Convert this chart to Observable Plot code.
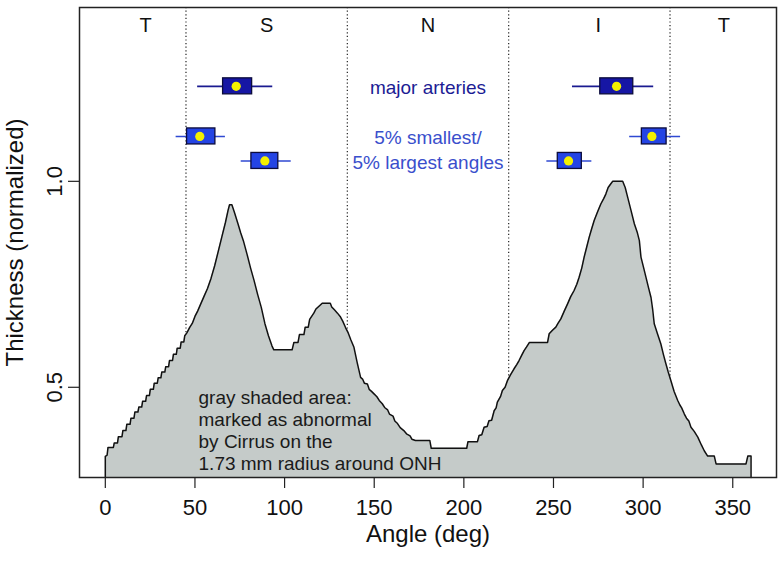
<!DOCTYPE html>
<html><head><meta charset="utf-8">
<script src="https://cdn.jsdelivr.net/npm/d3@7"></script>
<script src="https://cdn.jsdelivr.net/npm/@observablehq/plot@0.6"></script>
<style>body{margin:0;background:#fff;}</style>
</head><body><div id="chart"></div>
<script>
// ---- data: outline vertices of the thickness profile ----
const angles = [0, 1, 1.5, 4.5, 5, 6.8, 7.3, 9.3, 9.8, 11.5, 12, 13.8, 14.3, 16, 16.5, 18.2, 18.7, 20.3, 20.8, 22.5, 23, 24.6, 25.1, 26.8, 27.3, 29, 29.5, 31, 31.5, 33.2, 33.7, 35.3, 35.8, 37.5, 38, 39.6, 40.1, 41.8, 42.3, 43.8, 44.3, 45.5,
  47, 48.5, 50, 51.5, 53, 55, 57, 59, 61, 63, 65, 67, 68.5, 69.3, 70.6, 72, 74, 75.5, 77, 79, 81, 83, 85, 87, 89, 91, 93, 94,
  104.2, 105.2, 107.5, 108.3, 110.8, 111.5, 113.2, 114, 116.3, 117.5, 119.5, 121, 125.5, 126.3, 127.8, 129.5, 131, 132.5, 134, 135.5, 137, 138.7, 140.5, 142.4,
  143.5, 144.5, 146.2, 147.2, 148.5, 149.9, 151.5, 152.8, 154.5, 155.8, 157.5, 158.5, 160.5, 161.5, 163, 164.5, 166.5, 168, 170, 171, 173, 181, 181.8, 201.6, 202.3, 207.6,
  208.5, 210, 211.3, 213, 214, 215.5, 216.9, 218, 218.7, 220.5, 221.5, 223, 224.3, 226, 228, 229.5, 230.8, 232.3, 233.6, 235, 236.6, 246.7, 247.6, 249.3, 251.3, 252.5, 254.1,
  256, 257.8, 259.6, 261.5, 263, 264.3, 265.8, 267.1, 268.5, 269.9, 271.3, 272.7, 274.5, 276.4, 278, 279.2, 280.5, 282, 283, 288.6, 290, 291.4, 293.2, 295.1, 296.8, 297.9,
  298.8, 300.3, 301.6, 303, 304.4, 305.3, 306.2, 308, 309.9, 311.3, 312.7, 314, 315.5, 317.3, 319.3, 320.5, 321.5, 323, 324.2, 325.5, 326.7, 328.5, 330.5, 332.5, 334.1, 336,
  339.7, 340.7, 357.4, 358.4, 360.2];
const thickness = [0.332, 0.335, 0.354, 0.354, 0.365, 0.365, 0.38, 0.38, 0.395, 0.395, 0.41, 0.41, 0.425, 0.425, 0.44, 0.44, 0.452, 0.452, 0.466, 0.466, 0.48, 0.48, 0.495, 0.495, 0.51, 0.51, 0.523, 0.523, 0.537, 0.537, 0.55, 0.55, 0.565, 0.565, 0.58, 0.58, 0.595, 0.595, 0.61, 0.61, 0.625, 0.632,
  0.645, 0.655, 0.672, 0.685, 0.70, 0.72, 0.74, 0.765, 0.795, 0.83, 0.865, 0.90, 0.93, 0.943, 0.943, 0.925, 0.897, 0.875, 0.856, 0.824, 0.79, 0.759, 0.725, 0.694, 0.655, 0.625, 0.600, 0.591,
  0.591, 0.609, 0.609, 0.628, 0.628, 0.646, 0.646, 0.665, 0.68, 0.69, 0.698, 0.704, 0.704, 0.695, 0.688, 0.68, 0.672, 0.66, 0.645, 0.632, 0.615, 0.597, 0.56, 0.524,
  0.52, 0.51, 0.508, 0.495, 0.49, 0.484, 0.477, 0.468, 0.46, 0.451, 0.445, 0.435, 0.43, 0.418, 0.412, 0.402, 0.395, 0.387, 0.382, 0.374, 0.371, 0.371, 0.352, 0.352, 0.368, 0.368,
  0.383, 0.385, 0.403, 0.405, 0.419, 0.42, 0.443, 0.45, 0.464, 0.478, 0.492, 0.50, 0.516, 0.53, 0.545, 0.555, 0.565, 0.578, 0.589, 0.598, 0.609, 0.609, 0.63, 0.638, 0.646, 0.655, 0.666,
  0.685, 0.702, 0.72, 0.735, 0.75, 0.767, 0.79, 0.816, 0.84, 0.864, 0.885, 0.905, 0.925, 0.945, 0.958, 0.969, 0.985, 0.994, 1.0, 1.0, 0.985, 0.961, 0.93, 0.897, 0.875, 0.856,
  0.816, 0.79, 0.767, 0.742, 0.718, 0.69, 0.654, 0.63, 0.605, 0.58, 0.557, 0.537, 0.516, 0.49, 0.468, 0.457, 0.45, 0.435, 0.425, 0.418, 0.403, 0.393, 0.379, 0.36, 0.346, 0.333,
  0.333, 0.314, 0.314, 0.333, 0.333];

const sectorNames = ["T", "S", "N", "I", "T"];
const sectorCenters = [22.5, 90, 180, 275, 345];
const sectorBounds = [45, 135, 225, 315];
const sectorLabelY = 1.377;

const xTicks = [0, 50, 100, 150, 200, 250, 300, 350];
const yTicks = [0.5, 1.0];
const xDomain = [-14.4, 374.4];
const yDomain = [0.281, 1.422];

// box plots: major arteries (S, I), 5% smallest (S, I), 5% largest (S, I)
const boxGroup  = ["major", "major", "small", "small", "large", "large"];
const boxRow    = [1.2306, 1.2306, 1.109, 1.109, 1.0495, 1.0495];
const whiskerLo = [51.5, 260.6, 39.5, 292.5, 75.8, 246.3];
const boxLo     = [65.7, 276.1, 45.6, 299.3, 81.5, 252.4];
const boxMed    = [73.0, 285.2, 52.7, 304.9, 89.0, 258.4];
const boxHi     = [81.9, 294.5, 61.4, 313.1, 96.5, 265.8];
const whiskerHi = [93.4, 305.9, 67.0, 320.9, 103.7, 271.4];

const calloutText = ["major arteries", "5% smallest/\n5% largest angles"];
const calloutX = [180, 180];
const calloutY = [1.2306, 1.0793];

const noteText = ["gray shaded area:\nmarked as abnormal\nby Cirrus on the\n1.73 mm radius around ONH"];
const noteX = [52];
const noteY = [0.3965];

// ---- build ----
const profile = angles.map((a, i) => ({angle: a, thick: thickness[i]}));
const outline = [{angle: angles[0], thick: yDomain[0]}, ...profile, {angle: angles[angles.length - 1], thick: yDomain[0]}];
const boxes = boxRow.map((r, i) => ({row: r, group: boxGroup[i], wlo: whiskerLo[i], blo: boxLo[i], med: boxMed[i], bhi: boxHi[i], whi: whiskerHi[i]}));
const sectors = sectorNames.map((s, i) => ({name: s, x: sectorCenters[i], y: sectorLabelY}));
const callouts = calloutText.map((t, i) => ({t, x: calloutX[i], y: calloutY[i], c: i === 0 ? "#1c1c94" : "#3a4fcc"}));
const notes = noteText.map((t, i) => ({t, x: noteX[i], y: noteY[i]}));

const navy = "#1a1a90", navyFill = "#1616a4";
const blue = "#2f49d2", blueFill = "#2444e4";

const chart = Plot.plot({
  width: 783,
  height: 575,
  marginLeft: 79,
  marginRight: 7,
  marginTop: 7,
  marginBottom: 98,
  style: {fontFamily: "'Liberation Sans', Arial, Helvetica, sans-serif", fontSize: "21px", background: "#fff", color: "#111"},
  x: {domain: xDomain},
  y: {domain: yDomain},
  marks: [
    Plot.ruleX(sectorBounds, {stroke: "#222", strokeWidth: 1.2, strokeDasharray: "1.2,2.4"}),
    Plot.areaY(profile, {x: "angle", y1: yDomain[0], y2: "thick", curve: "linear", fill: "#c5cbc9"}),
    Plot.line(outline, {x: "angle", y: "thick", curve: "linear", stroke: "#111", strokeWidth: 1.5}),
    // whiskers
    Plot.ruleY(boxes, {filter: d => d.group === "major", y: "row", x1: "wlo", x2: "whi", stroke: navy, strokeWidth: 1.6}),
    Plot.ruleY(boxes, {filter: d => d.group !== "major", y: "row", x1: "wlo", x2: "whi", stroke: blue, strokeWidth: 1.6}),
    // boxes
    Plot.rect(boxes, {filter: d => d.group === "major", x1: "blo", x2: "bhi", y1: "row", y2: "row", insetTop: -8, insetBottom: -8, fill: navyFill, stroke: "#0c0c3c", strokeWidth: 1.3}),
    Plot.rect(boxes, {filter: d => d.group !== "major", x1: "blo", x2: "bhi", y1: "row", y2: "row", insetTop: -8, insetBottom: -8, fill: blueFill, stroke: "#0c0c3c", strokeWidth: 1.3}),
    Plot.dot(boxes, {x: "med", y: "row", r: 4.6, fill: "#f4f000", stroke: "none"}),
    // sector labels
    Plot.text(sectors, {x: "x", y: "y", text: "name", fontSize: 20, fill: "#111"}),
    // callouts
    Plot.text(callouts, {x: "x", y: "y", text: "t", fill: d => d.c, fontSize: 19, lineHeight: 1.29}),
    Plot.text(notes, {x: "x", y: "y", text: "t", textAnchor: "start", fontSize: 19, lineHeight: 1.17, fill: "#1a1a1a"}),
    // axes
    Plot.axisX({ticks: xTicks, tickSize: 11, tickPadding: 11, fontSize: 22, label: null, stroke: "#222", strokeWidth: 1.2}),
    Plot.axisY({ticks: yTicks, tickSize: 11, tickPadding: 7, tickRotate: -90, tickFormat: d3.format(".1f"), fontSize: 22, label: null, stroke: "#222", strokeWidth: 1.2}),
    Plot.text(["Angle (deg)"], {text: d => d, frameAnchor: "bottom", textAnchor: "middle", dy: 64, fontSize: 24, fill: "#111"}),
    Plot.text(["Thickness (normalized)"], {text: d => d, frameAnchor: "left", textAnchor: "middle", rotate: -90, dx: -64, fontSize: 24, fill: "#111"}),
    Plot.frame({stroke: "#222", strokeWidth: 1.5})
  ]
});
document.getElementById("chart").appendChild(chart);
</script></body></html>
